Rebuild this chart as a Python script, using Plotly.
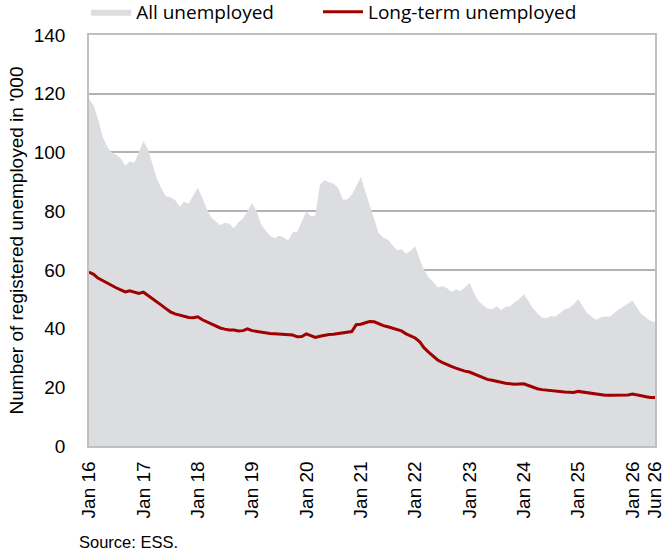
import pandas as pd
import plotly.graph_objects as go

# Monthly data, Jan 2016 - Jun 2026, thousands of registered unemployed
months = pd.date_range("2016-01-01", "2026-06-01", freq="MS")

all_unemployed = [
    118.2, 116.0, 111.5, 105.5, 102.0, 100.0, 99.3, 98.0, 95.5, 97.0, 96.5, 100.3,   # 2016
    103.8, 101.0, 96.0, 91.0, 87.8, 85.0, 84.7, 83.8, 81.5, 83.2, 82.6, 85.5,        # 2017
    88.0, 84.5, 81.0, 77.8, 76.5, 75.2, 76.0, 75.8, 74.2, 76.2, 77.5, 80.0,          # 2018
    82.7, 80.0, 75.5, 73.5, 71.6, 70.8, 71.6, 71.0, 70.0, 72.7, 73.0, 76.4,          # 2019
    80.0, 78.2, 78.5, 89.0, 90.5, 89.8, 89.4, 88.0, 84.0, 84.0, 85.5, 88.5,          # 2020
    91.7, 86.5, 82.0, 77.0, 72.5, 71.0, 70.3, 68.5, 66.7, 67.0, 65.5, 66.5,          # 2021
    68.0, 63.5, 60.0, 57.5, 56.0, 54.0, 54.5, 53.8, 52.5, 53.3, 52.8, 54.0,          # 2022
    55.6, 52.0, 49.5, 48.0, 46.8, 46.5, 47.5, 46.3, 47.4, 47.6, 49.0, 50.0,          # 2023
    51.7, 49.5, 47.0, 45.3, 43.8, 43.5, 44.3, 44.0, 45.3, 46.5, 47.0, 48.3,          # 2024
    50.0, 47.5, 45.3, 44.0, 43.0, 43.8, 44.1, 44.0, 45.3, 46.5, 47.5, 48.5,          # 2025
    49.6, 47.0, 45.0, 43.8, 42.7, 42.2,                                              # 2026
]

long_term = [
    59.2, 58.5, 57.2, 56.3, 55.6, 54.8, 53.9, 53.2, 52.5, 52.9, 52.4, 52.0,   # 2016
    52.4, 51.3, 50.3, 49.3, 48.0, 46.8, 45.7, 45.0, 44.6, 44.4, 43.8, 43.7,   # 2017
    44.0, 43.0, 42.3, 41.5, 40.8, 40.2, 39.8, 39.5, 39.5, 39.2, 39.3, 39.9,   # 2018
    39.3, 39.0, 38.7, 38.4, 38.3, 38.2, 38.1, 38.1, 38.0, 37.8, 37.2, 37.3,   # 2019
    38.2, 37.5, 37.0, 37.4, 37.8, 38.0, 38.1, 38.3, 38.4, 38.7, 39.0, 41.3,   # 2020
    41.5, 42.0, 42.4, 42.3, 41.6, 41.0, 40.6, 40.1, 39.6, 39.2, 38.2, 37.5,   # 2021
    36.8, 35.5, 33.5, 32.0, 30.5, 29.3, 28.5, 27.7, 27.1, 26.5, 25.9, 25.5,   # 2022
    25.2, 24.5, 23.8, 23.2, 22.7, 22.4, 22.0, 21.7, 21.4, 21.2, 21.0, 21.1,   # 2023
    21.2, 20.6, 20.0, 19.5, 19.2, 19.0, 18.8, 18.6, 18.5, 18.4, 18.3, 18.2,   # 2024
    18.6, 18.4, 18.1, 17.8, 17.6, 17.4, 17.3, 17.3, 17.3, 17.3, 17.3, 17.4,   # 2025
    17.7, 17.5, 17.1, 16.8, 16.5, 16.5,                                       # 2026
]

tick_dates = [f"20{y}-01-01" for y in range(16, 27)] + ["2026-06-01"]
tick_labels = [f"Jan {y}" for y in range(16, 27)] + ["Jun 26"]

font = "Liberation Sans, Arial, sans-serif"
legend_style = dict(orientation="h", yanchor="middle", y=1.056, xanchor="left",
                    font=dict(family="Open Sans, sans-serif", size=19),
                    itemwidth=40, bgcolor="rgba(0,0,0,0)")

fig = go.Figure()

fig.add_trace(go.Scatter(
    x=months, y=all_unemployed, name="All unemployed",
    mode="lines", fill="tozeroy", fillcolor="#dcdde0",
    line=dict(width=0, color="#dcdde0"), legend="legend",
))

fig.add_trace(go.Scatter(
    x=months, y=long_term, name="Long-term unemployed",
    mode="lines", line=dict(color="#a00000", width=3), legend="legend2",
))

fig.update_layout(
    width=671, height=556,
    margin=dict(l=89, r=16, t=35, b=110, autoexpand=False),
    plot_bgcolor="white", paper_bgcolor="white",
    font=dict(family=font, size=19, color="#000000"),
    showlegend=True,
    legend=dict(legend_style, x=-0.005),
    legend2=dict(legend_style, x=0.4046),
    xaxis=dict(
        range=["2016-01-01", "2026-06-01"],
        tickvals=tick_dates, ticktext=tick_labels, tickangle=-90,
        showgrid=False, showline=True, mirror=True,
        linecolor="#bfbfbf", linewidth=1.5, ticks="",
        tickfont=dict(size=19), automargin=False, ticklabelstandoff=6,
    ),
    yaxis=dict(
        range=[0, 140], dtick=20,
        showgrid=True, gridcolor="#b3b3b3", gridwidth=2,
        showline=True, mirror=True, linecolor="#bfbfbf", linewidth=1.5,
        zeroline=False, ticks="", tickfont=dict(size=19), automargin=False,
        ticklabelstandoff=18,
        title=dict(text="Number of registered unemployed in '000",
                   font=dict(size=19), standoff=5),
    ),
    annotations=[dict(
        text="Source: ESS.", xref="paper", yref="paper",
        x=-0.021, y=-0.2336, xanchor="left", yanchor="middle",
        showarrow=False, font=dict(size=16.5),
    )],
)

fig.write_html("out.html", config={"displayModeBar": False},
               post_script="document.body.style.margin = '0';")
